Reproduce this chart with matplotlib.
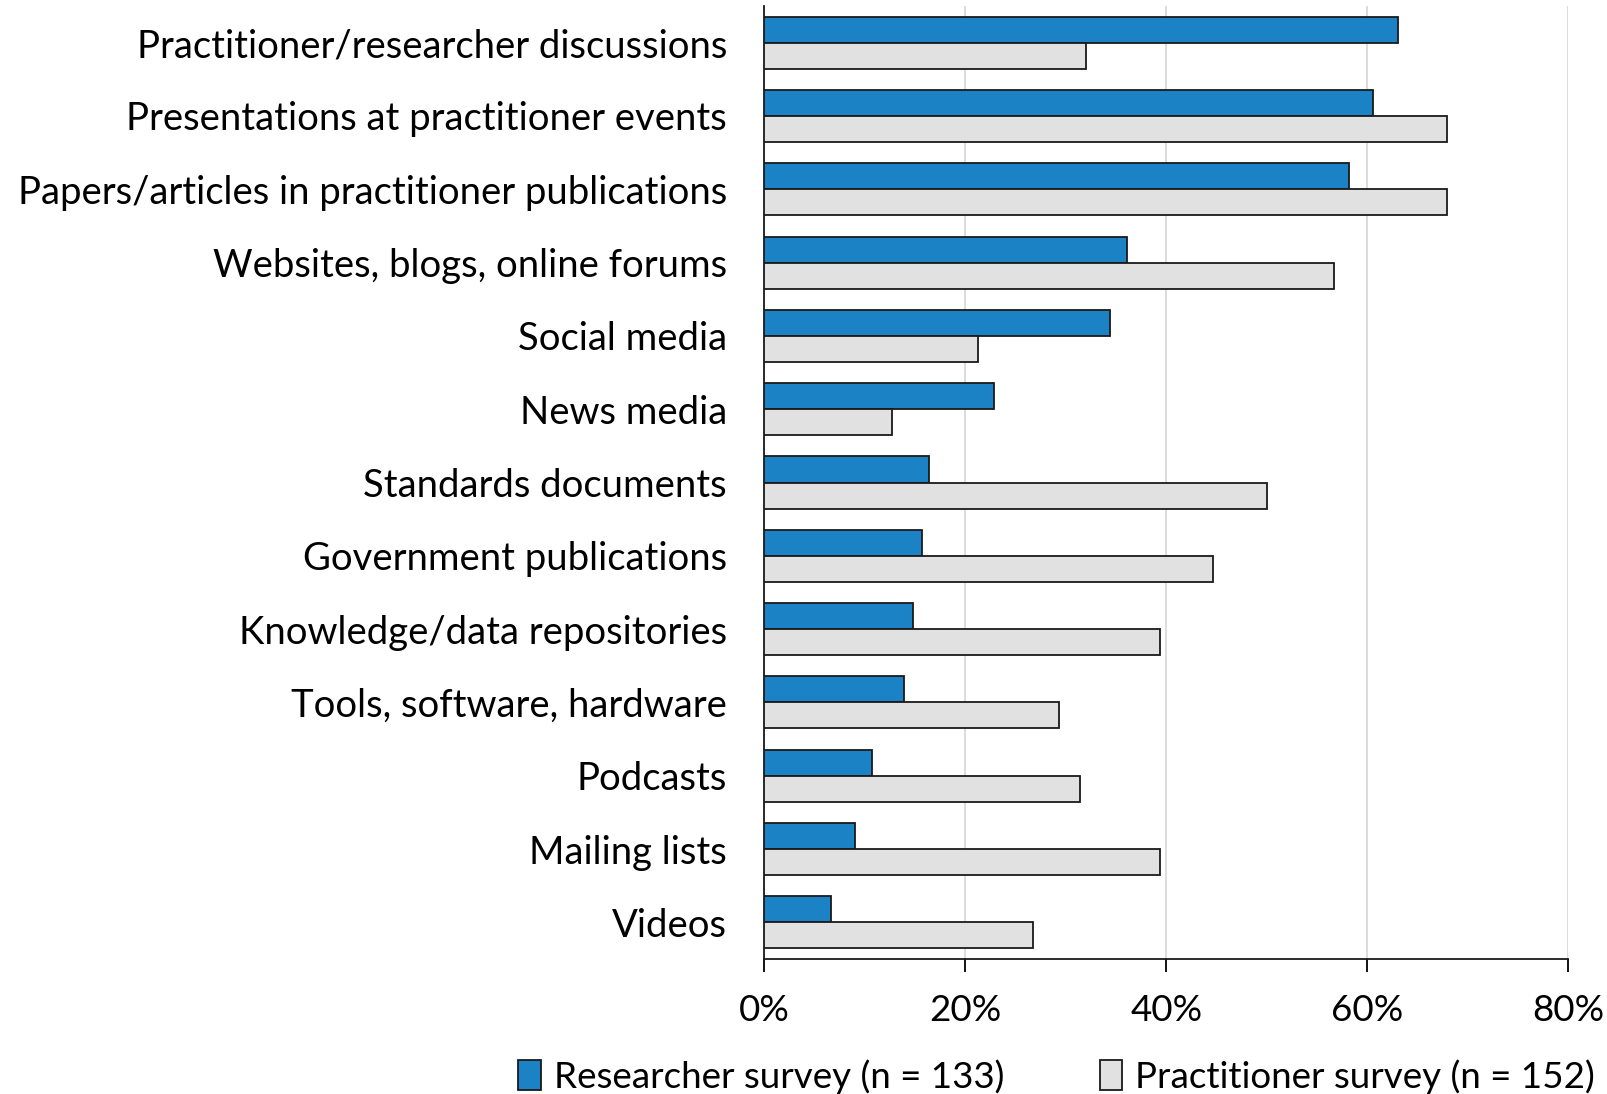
import numpy as np
import matplotlib as mpl
mpl.use("Agg")
from matplotlib import pyplot as plt
from matplotlib.ticker import FuncFormatter
from matplotlib.patches import Patch

plt.rcParams['font.family'] = ['Lato', 'DejaVu Sans']

categories = ["Practitioner/researcher discussions", "Presentations at practitioner events",
              "Papers/articles in practitioner publications", "Websites, blogs, online forums",
              "Social media", "News media", "Standards documents", "Government publications",
              "Knowledge/data repositories", "Tools, software, hardware", "Podcasts",
              "Mailing lists", "Videos"]
researcher = [63.1, 60.6, 58.2, 36.1, 34.4, 22.9, 16.4, 15.7, 14.8, 13.9, 10.7, 9.0, 6.6]
practitioner = [32.0, 68.0, 68.0, 56.7, 21.3, 12.7, 50.0, 44.7, 39.4, 29.3, 31.4, 39.4, 26.7]
series_names = ["Researcher survey (n = 133)", "Practitioner survey (n = 152)"]
xticks = [0, 20, 40, 60, 80]

blue = "#1B82C5"
grey = "#E1E1E1"

fig = plt.figure(figsize=(16.08, 10.94), dpi=100)
ax = fig.add_axes([0.4754, 0.1234, 0.4997, 0.8711])

y = np.arange(len(categories))
h = 0.355
ax.barh(y - h / 2, researcher, height=h, color=blue, edgecolor="#1a1a1a", linewidth=1.3, zorder=3)
ax.barh(y + h / 2, practitioner, height=h, color=grey, edgecolor="#1a1a1a", linewidth=1.3, zorder=3)

ax.set_ylim(len(categories) - 0.5, -0.5)
ax.set_xlim(0, 80)
ax.set_yticks(y)
ax.set_yticklabels(categories, fontsize=27.5)
ax.tick_params(axis="y", length=0, pad=27)
ax.set_xticks(xticks)
ax.xaxis.set_major_formatter(FuncFormatter(lambda v, p: f"{v:.0f}%"))
ax.tick_params(axis="x", labelsize=26.5, length=9, width=1.3, direction="out", pad=16)
ax.grid(axis="x", color="#D9D9D9", linewidth=1.3, zorder=0)
for s in ["top", "right"]:
    ax.spines[s].set_visible(False)
for s in ["left", "bottom"]:
    ax.spines[s].set_linewidth(1.3)
    ax.spines[s].set_color("#1a1a1a")

handles = [Patch(facecolor=blue, edgecolor="#1a1a1a", linewidth=1.3),
           Patch(facecolor=grey, edgecolor="#1a1a1a", linewidth=1.3)]
fig.legend(handles, series_names, loc="center", bbox_to_anchor=(0.657, 0.016), ncol=2,
           frameon=False, fontsize=26.5, handlelength=0.62, handleheight=0.9,
           handletextpad=0.35, columnspacing=2.6, borderpad=0)

plt.savefig("out.png", dpi=100)
